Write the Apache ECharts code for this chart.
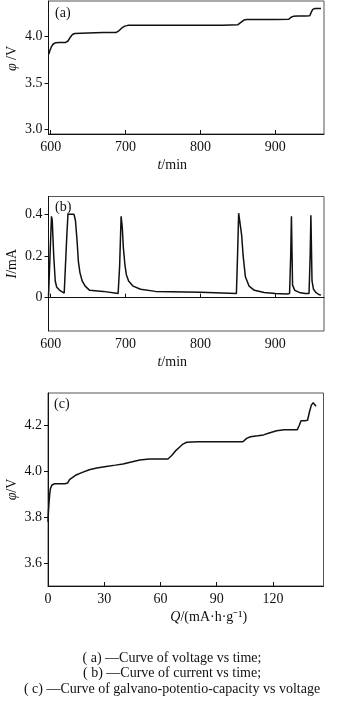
<!DOCTYPE html>
<html>
<head>
<meta charset="utf-8">
<script src="https://cdn.jsdelivr.net/npm/echarts@6/dist/echarts.min.js"></script>
<style>
  html, body { margin: 0; padding: 0; background: #fff; }
  #chart { width: 341px; height: 716px; }
</style>
</head>
<body>
<div id="chart"></div>
<script>
// (a) cell voltage during charging, versus time
const timeA = [597.5, 599, 601, 603, 606, 612, 620, 623, 626, 629, 632, 650, 670, 687, 691, 695, 699, 703,
  730, 760, 800, 830, 850, 854, 858, 862, 880, 900, 918, 921, 924, 930, 940, 946, 948, 950, 953, 957, 961];
const voltA = [3.81, 3.85, 3.89, 3.915, 3.93, 3.935, 3.935, 3.95, 3.99, 4.02, 4.03, 4.035, 4.04, 4.04, 4.06, 4.09, 4.11, 4.118,
  4.12, 4.12, 4.12, 4.12, 4.125, 4.15, 4.175, 4.18, 4.18, 4.182, 4.185, 4.205, 4.215, 4.218, 4.22, 4.222, 4.26, 4.29, 4.3, 4.3, 4.3];

// (b) charging current versus time
const timeB = [597, 599, 601, 602, 604, 606, 608, 612, 618, 620, 621.5, 623, 631, 633, 635, 637, 639, 642, 646, 652, 670, 690,
  692, 694, 695.5, 697, 699, 701, 704, 710, 720, 740, 800, 848,
  849.5, 851, 853, 855, 857, 860, 865, 872, 885, 900, 915, 919,
  920.5, 921.5, 923, 926, 932, 940, 945,
  946.5, 947.5, 949, 951, 954, 958, 961];
const currB = [0.005, 0.2, 0.39, 0.37, 0.2, 0.08, 0.05, 0.035, 0.022, 0.02, 0.3, 0.4, 0.4, 0.37, 0.28, 0.17, 0.12, 0.08, 0.055, 0.035, 0.03, 0.02,
  0.15, 0.39, 0.34, 0.24, 0.16, 0.11, 0.08, 0.055, 0.04, 0.03, 0.026, 0.02,
  0.2, 0.405, 0.4, 0.3, 0.2, 0.1, 0.055, 0.035, 0.025, 0.02, 0.018, 0.02,
  0.2, 0.39, 0.06, 0.035, 0.025, 0.02, 0.02,
  0.2, 0.395, 0.08, 0.04, 0.025, 0.015, 0.012];

// (c) voltage versus charged capacity
const capC = [0, 0.2, 0.5, 0.9, 1.3, 2, 3.5, 6, 9, 10.5, 11.5, 12.5, 15, 18, 22, 26, 31, 36, 40, 45, 49, 54, 58, 64,
  66, 68, 70, 72, 74, 80, 90, 100, 104, 106, 108, 112, 115, 118, 122, 126, 130, 133,
  134, 135, 137, 138.5, 139.5, 140.5, 141.5, 142.3, 143];
const voltC = [3.78, 3.82, 3.86, 3.9, 3.925, 3.94, 3.947, 3.947, 3.947, 3.95, 3.965, 3.97, 3.985, 3.995, 4.008, 4.015, 4.022, 4.028, 4.033, 4.043, 4.05, 4.055, 4.055, 4.055,
  4.07, 4.09, 4.105, 4.12, 4.128, 4.13, 4.13, 4.13, 4.13, 4.145, 4.152, 4.156, 4.16, 4.168, 4.178, 4.182, 4.182, 4.183,
  4.2, 4.222, 4.222, 4.224, 4.26, 4.29, 4.3, 4.298, 4.285];

// tick values
const ticksTime = [600, 700, 800, 900];
const ticksVoltA = [3.0, 3.5, 4.0];
const ticksCurr = [0, 0.2, 0.4];
const ticksVoltC = [3.6, 3.8, 4.0, 4.2];
const ticksCap = [0, 30, 60, 90, 120];

const captions = [
  '( a) \u2014Curve of voltage vs time;',
  '( b) \u2014Curve of current vs time;',
  '( c) \u2014Curve of galvano-potentio-capacity vs voltage'
];

const FONT = '"Liberation Serif", "Times New Roman", serif';
const INK = '#111';
const FS = 14;

function pairs(xs, ys) { return xs.map((x, i) => [x, ys[i]]); }

function xAxis(gridIndex, min, max, ticks, name, pad) {
  return {
    type: 'value', gridIndex, min, max,
    axisLine: { show: true, lineStyle: { color: INK, width: 1 } },
    axisTick: { show: true, inside: true, length: 4, customValues: ticks, lineStyle: { color: INK } },
    axisLabel: { customValues: ticks, margin: 6, color: INK, fontFamily: FONT, fontSize: FS },
    splitLine: { show: false },
    name, nameLocation: 'middle', nameGap: 24, nameMoveOverlap: false,
    nameTextStyle: {
      fontFamily: FONT, fontSize: FS, color: INK, padding: pad,
      rich: { i: { fontFamily: FONT, fontSize: FS, fontStyle: 'italic', color: INK } }
    }
  };
}

function yAxis(gridIndex, min, max, ticks, fmt, name, pad) {
  return {
    type: 'value', gridIndex, min, max,
    axisLine: { show: true, lineStyle: { color: INK, width: 1 } },
    axisTick: { show: true, inside: false, length: 4, customValues: ticks, lineStyle: { color: INK } },
    axisLabel: { customValues: ticks, margin: 6, color: INK, fontFamily: FONT, fontSize: FS, formatter: fmt },
    splitLine: { show: false },
    name, nameLocation: 'middle', nameGap: 29, nameMoveOverlap: false,
    nameTextStyle: {
      fontFamily: FONT, fontSize: FS, color: INK, padding: pad,
      rich: { i: { fontFamily: FONT, fontSize: FS, fontStyle: 'italic', color: INK } }
    }
  };
}

const gridStyle = {
  show: true, borderColor: '#555', borderWidth: 1, backgroundColor: 'transparent',
  outerBoundsMode: 'none', containLabel: false
};

function curve(idx, data) {
  return {
    type: 'line', xAxisIndex: idx, yAxisIndex: idx, data,
    showSymbol: false, symbol: 'none', smooth: false,
    lineStyle: { color: INK, width: 1.5 }, clip: true
  };
}

function panelTag(text, x, y) {
  return {
    type: 'text', x, y,
    style: { text, fill: INK, font: FS + 'px ' + FONT, textAlign: 'left', textVerticalAlign: 'middle' }
  };
}

const option = {
  animation: false,
  backgroundColor: '#fff',
  grid: [
    Object.assign({ left: 48.5, top: 1, width: 275.5, height: 133 }, gridStyle),
    Object.assign({ left: 48.5, top: 196.5, width: 275.5, height: 134.5 }, gridStyle),
    Object.assign({ left: 48, top: 393, width: 275.5, height: 193 }, gridStyle)
  ],
  xAxis: [
    xAxis(0, 597, 965, ticksTime, '{i|t}/min', [0, 28, 0, 0]),
    xAxis(1, 597, 965, ticksTime, '{i|t}/min', [0, 28, 0, 0]),
    xAxis(2, 0, 147, ticksCap, '{i|Q}/(mA\u00B7h\u00B7g\u207B\u00B9)', [0, 0, 0, 46])
  ],
  yAxis: [
    yAxis(0, 2.95, 4.38, ticksVoltA, v => v.toFixed(1), '{i|\u03C6} /V', [0, 0, 0, 18]),
    yAxis(1, -0.16, 0.485, ticksCurr, v => (v === 0 ? '0' : v.toFixed(1)), '{i|I}/mA', [0, 0, 0, 0]),
    yAxis(2, 3.5, 4.343, ticksVoltC, v => v.toFixed(1), '{i|\u03C6}/V', [0, 0, 0, 0])
  ],
  series: [
    curve(0, pairs(timeA, voltA)),
    curve(1, pairs(timeB, currB)),
    curve(2, pairs(capC, voltC))
  ],
  graphic: [
    panelTag('(a)', 55, 13),
    panelTag('(b)', 55, 207),
    panelTag('(c)', 54, 404)
  ].concat(captions.map((t, i) => ({
    type: 'text', x: 172, y: [658, 673, 689][i],
    style: { text: t, fill: INK, font: FS + 'px ' + FONT, textAlign: 'center', textVerticalAlign: 'middle' }
  })))
};

const chart = echarts.init(document.getElementById('chart'), null, { renderer: 'canvas' });
chart.setOption(option);
</script>
</body>
</html>
